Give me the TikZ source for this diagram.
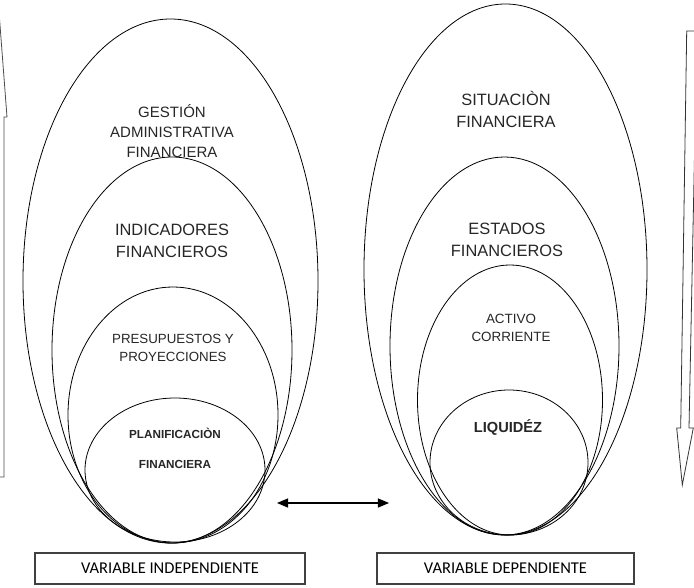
\documentclass[tikz,border=0pt]{standalone}
\usepackage{fontspec}
\setmainfont{Liberation Sans}
\newfontfamily\calfont{Carlito}
\usetikzlibrary{arrows}
\usetikzlibrary{calc}

\tikzset{
  capa/.style={draw=black, line width=0.8pt},
  rotulo/.style={align=center, inner sep=0pt, text=black!85},
  caja/.style={draw=black!75, line width=1.2pt, minimum width=270pt, minimum height=31pt, inner sep=0pt, font=\calfont\fontsize{16.5}{18}\selectfont}
}

\begin{document}
\begin{tikzpicture}[x=1pt, y=-1pt]
\useasboundingbox (0,0) rectangle (694,587);

    % Variable independiente
\draw[capa] (170.5,281) ellipse [x radius=147.5pt, y radius=262pt];
\draw[capa] (172,350) ellipse [x radius=120pt, y radius=193pt];
\draw[capa] (173,415) ellipse [x radius=105pt, y radius=128pt];
\draw[capa] (175,470) ellipse [x radius=90pt, y radius=72pt];

\node[rotulo, font=\fontsize{15}{20}\selectfont] (gestion) at (172,131) {GESTIÓN\\ADMINISTRATIVA\\FINANCIERA};
\node[rotulo, font=\fontsize{16.4}{22}\selectfont] (indicadores) at (172,241) {INDICADORES\\FINANCIEROS};
\node[rotulo, font=\fontsize{13.3}{18}\selectfont] (presupuestos) at (173,348) {PRESUPUESTOS Y\\PROYECCIONES};
\node[rotulo, font=\bfseries\fontsize{11.7}{30}\selectfont] (planificacion) at (175,448) {PLANIFICACIÒN\\FINANCIERA};

    % Variable dependiente
\draw[capa] (505.5,269.5) ellipse [x radius=141.5pt, y radius=265.5pt];
\draw[capa] (504.5,346) ellipse [x radius=114.5pt, y radius=189pt];
\draw[capa] (510,400) ellipse [x radius=92.5pt, y radius=135pt];
\draw[capa] (509,462.5) ellipse [x radius=79pt, y radius=72.5pt];

\node[rotulo, font=\fontsize{16.4}{22}\selectfont] (situacion) at (506,109) {SITUACIÒN\\FINANCIERA};
\node[rotulo, font=\fontsize{16.4}{22}\selectfont] (estados) at (507,240) {ESTADOS\\FINANCIEROS};
\node[rotulo, font=\fontsize{13.4}{18}\selectfont] (activo) at (511,328) {ACTIVO\\CORRIENTE};
\node[rotulo, font=\bfseries\fontsize{14.6}{18}\selectfont] (liquidez) at (508,427) {LIQUIDÉZ};

    % relacion entre variables
\coordinate (izq) at (277,503);
\coordinate (der) at (389,503);
\draw[line width=1.6pt, triangle 45-triangle 45] (izq) -- (der);

\node[caja] (vi) at (170,568.5) {VARIABLE INDEPENDIENTE};
\node[caja, minimum width=257pt] (vd) at (505.5,568.5) {VARIABLE DEPENDIENTE};

    % flechas laterales
\begin{scope}
\clip (0,0) rectangle (694,587);
\draw[black!70, line width=0.8pt] (-1,12) -- (7,117) -- (4,117) -- (4,477) -- (-1,477);
\draw[black!80, line width=0.8pt, fill=white] (686.7,31) -- (680.7,428) -- (676.7,428) -- (682.3,485) -- (693.3,428) -- (689,428) -- (697,31) -- cycle;
\end{scope}

\end{tikzpicture}
\end{document}
